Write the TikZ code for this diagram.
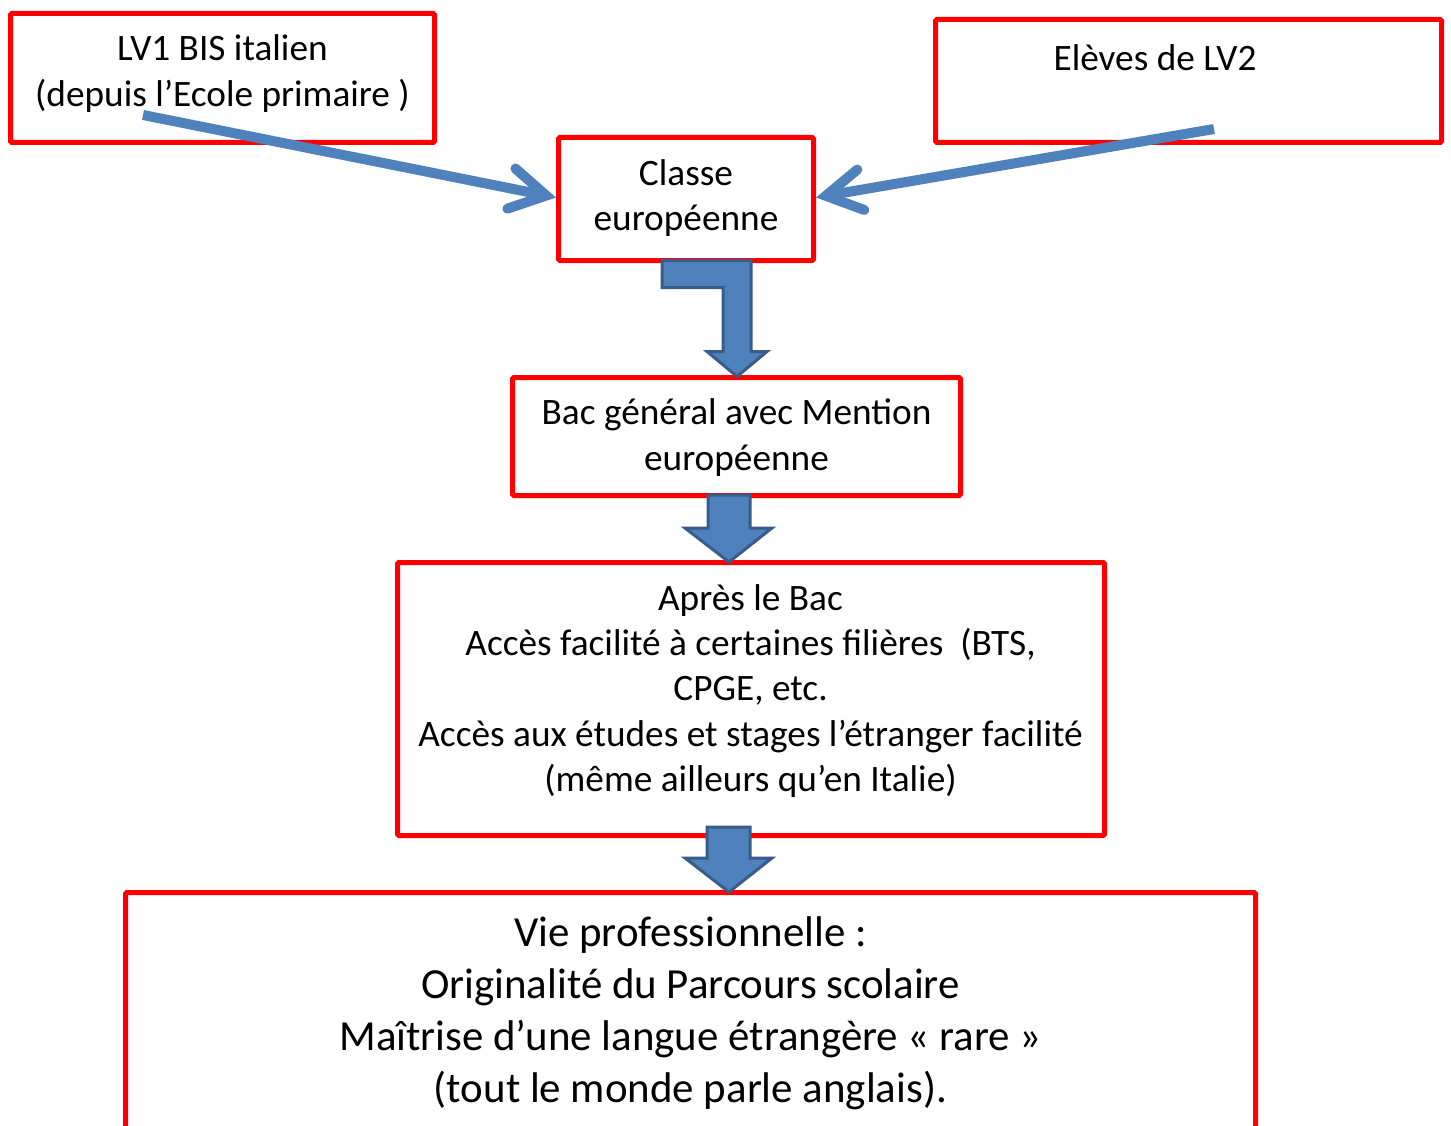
\documentclass[tikz,border=0pt]{standalone}
\usepackage{fontspec}
\setmainfont{Carlito}
\usetikzlibrary{calc}
\definecolor{boxred}{HTML}{FF0000}
\definecolor{arrblue}{HTML}{4F81BD}
\definecolor{arredge}{HTML}{385D8A}
\begin{document}
\begin{tikzpicture}[x=1pt,y=-1pt,
  box/.style={draw=boxred, line width=5pt, rounded corners=1.5pt, outer sep=0pt, inner sep=0pt},
  txt/.style={align=center, inner sep=0pt, text=black, font=\fontsize{37.3}{45.3}\selectfont},
  bigtxt/.style={align=center, inner sep=0pt, text=black, font=\fontsize{42.9}{52}\selectfont},
  shaft/.style={draw=arrblue, line width=10pt, line cap=butt},
  barb/.style={draw=arrblue, line width=10pt, line cap=round, line join=miter},
  blockarr/.style={fill=arrblue, draw=arredge, line width=3pt, line join=miter}]
\fill[white] (0,0) rectangle (1451,1126);
\useasboundingbox (0,0) rectangle (1451,1126);

% boxes
\node[box, minimum width=424pt, minimum height=129pt] (lv1) at (222.5,78) {};
\node[box, minimum width=506pt, minimum height=123pt] (lv2) at (1188.5,81) {};
\node[box, minimum width=255pt, minimum height=123pt] (classe) at (686,199) {};
\node[box, minimum width=448pt, minimum height=118pt] (bac) at (736.5,436.5) {};
\node[box, minimum width=707pt, minimum height=273pt] (apres) at (751,699) {};
\node[box, minimum width=1130pt, minimum height=250pt] (vie) at (690.5,1017.5) {};

% texts
\node[txt] (lv1t) at (222.5,73.5) {LV1 BIS italien\\(depuis l’Ecole primaire )};
\node[txt] (lv2t) at (1155,57.5) {Elèves de LV2};
\node[txt] (classet) at (686,198) {Classe\\européenne};
\node[txt] (bact) at (736.5,437.5) {Bac général avec Mention\\européenne};
\node[txt] (aprest) at (750.5,691) {Après le Bac\\Accès facilité à certaines filières\ \ (BTS,\\CPGE, etc.\\Accès aux études et stages l’étranger facilité\\(même ailleurs qu’en Italie)};
\node[bigtxt] (viet) at (690.5,1013.5) {Vie professionnelle :\\Originalité du Parcours scolaire\\Maîtrise d’une langue étrangère « rare »\\(tout le monde parle anglais).};

% block arrows
\draw[blockarr] ($(classe.south)+(-24,0)$) -- ++(89,0) -- ++(0,91) -- ++(16,0) -- ++(-30,25) -- ++(-30,-25) -- ++(16,0) -- ++(0,-64) -- ++(-61,0) -- cycle;
\draw[blockarr] ($(bac.south)+(-28.5,-0.5)$) -- ++(42,0) -- ++(0,33) -- ++(22,0) -- ++(-43,34) -- ++(-44,-34) -- ++(23,0) -- cycle;
\draw[blockarr] ($(apres.south)+(-44,-8.5)$) -- ++(43,0) -- ++(0,31) -- ++(22,0) -- ++(-43,34) -- ++(-44,-34) -- ++(22,0) -- cycle;

% thin arrows
\coordinate (s1) at (143,115);
\coordinate (t1) at ($(classe.west)+(-2.5,-1.5)$);
\coordinate (e1) at ($(t1)!10pt!(s1)$);
\coordinate (b1a) at ($(e1)!41pt!30:(s1)$);
\coordinate (b1b) at ($(e1)!41pt!-30:(s1)$);
\draw[shaft] (s1) -- (e1);
\draw[barb] (b1a) -- (e1) -- (b1b);

\coordinate (s2) at (1214,129);
\coordinate (t2) at ($(classe.east)+(2.5,-1.5)$);
\coordinate (e2) at ($(t2)!10pt!(s2)$);
\coordinate (b2a) at ($(e2)!41pt!30:(s2)$);
\coordinate (b2b) at ($(e2)!41pt!-30:(s2)$);
\draw[shaft] (s2) -- (e2);
\draw[barb] (b2a) -- (e2) -- (b2b);
\end{tikzpicture}
\end{document}
